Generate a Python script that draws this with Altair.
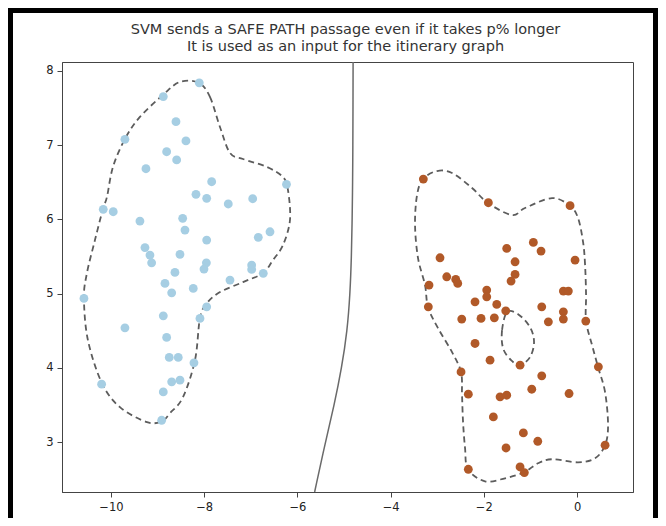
import altair as alt
import pandas as pd

# ---- data ----
blue_x = [-8.105, -8.877, -8.605, -8.391, -8.805, -8.590, -9.700, -9.249, -7.839, -6.234,
          -8.176, -7.946, -7.483, -6.959, -10.165, -9.951, -9.378, -8.461, -8.412, -7.946,
          -6.839, -6.588, -9.270, -9.163, -9.127, -8.519, -7.953, -6.981, -6.981, -6.732,
          -8.004, -8.627, -7.446, -8.841, -8.234, -8.697, -10.579, -7.946, -8.090, -8.877,
          -9.700, -8.805, -8.749, -8.556, -8.219, -8.697, -8.519, -10.200, -8.877, -8.912]
blue_y = [7.84, 7.654, 7.317, 7.057, 6.912, 6.801, 7.079, 6.683, 6.508, 6.473,
          6.338, 6.284, 6.208, 6.279, 6.136, 6.104, 5.978, 6.015, 5.857, 5.722,
          5.759, 5.834, 5.621, 5.520, 5.416, 5.530, 5.416, 5.385, 5.327, 5.274,
          5.332, 5.287, 5.183, 5.139, 5.071, 5.012, 4.937, 4.823, 4.667, 4.702,
          4.540, 4.411, 4.142, 4.142, 4.069, 3.813, 3.836, 3.782, 3.678, 3.296]

brown_x = [-3.298, -1.903, -0.150, -1.509, -0.938, -0.773, -1.330, -0.043, -2.940, -2.796,
           -2.603, -2.560, -1.330, -1.416, -3.176, -0.294, -0.187, -1.938, -1.938, -2.189,
           -1.723, -1.530, -0.758, -0.294, -3.191, -2.474, -2.060, -1.775, -0.616, -0.294,
           0.187, -2.189, -1.867, -1.223, -0.758, 0.457, -2.489, -2.333, -0.972, -1.652,
           -1.509, -0.172, -1.796, -1.152, -0.843, -1.524, 0.601, -2.333, -1.223, -1.131]
brown_y = [6.544, 6.225, 6.185, 5.610, 5.691, 5.574, 5.430, 5.453, 5.484, 5.228,
           5.193, 5.139, 5.260, 5.170, 5.116, 5.035, 5.035, 5.049, 4.958, 4.891,
           4.856, 4.770, 4.823, 4.756, 4.823, 4.658, 4.667, 4.675, 4.621, 4.658,
           4.631, 4.330, 4.105, 4.038, 3.894, 4.015, 3.947, 3.647, 3.714, 3.611,
           3.633, 3.656, 3.341, 3.125, 3.013, 2.923, 2.960, 2.636, 2.667, 2.592]

# dashed contour around the blue group
blue_cont_x = [-8.112, -7.876, -7.661, -7.446, -7.167, -6.652, -6.309, -6.202, -6.159, -6.309,
               -6.524, -6.738, -7.167, -7.661, -7.940, -8.090, -8.197, -8.455, -8.734, -8.906,
               -9.227, -9.807, -10.193, -10.494, -10.579, -10.515, -10.343, -10.172, -10.086,
               -9.957, -9.700, -9.378, -8.884, -8.519]
blue_cont_y = [7.838, 7.650, 7.245, 6.895, 6.814, 6.706, 6.571, 6.396, 5.992, 5.655,
               5.453, 5.278, 5.156, 5.022, 4.873, 4.671, 4.105, 3.606, 3.391, 3.283,
               3.270, 3.472, 3.795, 4.375, 4.941, 5.278, 5.722, 6.140, 6.302,
               6.706, 7.084, 7.380, 7.677, 7.852]

# dashed contour around the brown group
brown_cont_x = [-3.305, -3.004, -2.682, -2.253, -1.910, -1.395, -1.116, -0.536, -0.150, 0.021,
                0.129, 0.172, 0.193, 0.193, 0.322, 0.451, 0.601, 0.665, 0.601, 0.386,
                0.021, -0.536, -0.837, -1.137, -1.545, -1.974, -2.339, -2.403, -2.446, -2.468,
                -2.489, -2.682, -2.983, -3.197, -3.262, -3.412, -3.476, -3.433]
brown_cont_y = [6.544, 6.652, 6.625, 6.423, 6.221, 6.059, 6.154, 6.288, 6.181, 6.019,
                5.695, 5.385, 4.981, 4.631, 4.307, 4.011, 3.674, 3.229, 2.960, 2.784,
                2.730, 2.771, 2.717, 2.596, 2.515, 2.474, 2.636, 2.919, 3.270, 3.633,
                3.943, 4.213, 4.536, 4.819, 5.116, 5.480, 5.925, 6.329]

# small hole inside the brown contour
hole_x = [-1.502, -1.609, -1.588, -1.416, -1.223, -1.009, -0.923, -1.009, -1.266]
hole_y = [4.752, 4.509, 4.267, 4.105, 4.038, 4.146, 4.348, 4.550, 4.725]

# decision boundary
bound_x = [-4.805, -4.807, -4.81, -4.815, -4.825, -4.84, -4.87, -4.93, -5.05, -5.21, -5.40, -5.63]
bound_y = [8.12, 7.5, 7.0, 6.5, 6.0, 5.5, 5.0, 4.5, 4.0, 3.5, 3.0, 2.33]

title_line1 = "SVM sends a SAFE PATH passage even if it takes p% longer"
title_line2 = "It is used as an input for the itinerary graph"
x_ticks = [-10, -8, -6, -4, -2, 0]
y_ticks = [3, 4, 5, 6, 7, 8]
x_domain = [-11.05, 1.20]
y_domain = [2.33, 8.12]

# ---- tables ----
pts = pd.DataFrame({
    "x": blue_x + brown_x,
    "y": blue_y + brown_y,
    "cls": ["blue"] * len(blue_x) + ["brown"] * len(brown_x),
})
cont = pd.DataFrame({
    "x": blue_cont_x + brown_cont_x + hole_x,
    "y": blue_cont_y + brown_cont_y + hole_y,
    "path": ["a"] * len(blue_cont_x) + ["b"] * len(brown_cont_x) + ["c"] * len(hole_x),
    "i": list(range(len(blue_cont_x))) + list(range(len(brown_cont_x))) + list(range(len(hole_x))),
})
bnd = pd.DataFrame({"x": bound_x, "y": bound_y, "i": list(range(len(bound_x)))})

W, H = 571, 430
PL, PT, PR, PB = 54, 54, 25, 26

xs = alt.Scale(domain=x_domain, nice=False, zero=False)
ys = alt.Scale(domain=y_domain, nice=False, zero=False)
xax = alt.Axis(values=x_ticks, title=None, grid=False, format="d")
yax = alt.Axis(values=y_ticks, title=None, grid=False, format="d")

points = alt.Chart(pts).mark_point(filled=True, size=78, opacity=1).encode(
    x=alt.X("x:Q", scale=xs, axis=xax),
    y=alt.Y("y:Q", scale=ys, axis=yax),
    color=alt.Color("cls:N", scale=alt.Scale(domain=["blue", "brown"],
                                             range=["#a6cee3", "#b15928"]), legend=None),
)

contours = alt.Chart(cont).mark_line(
    interpolate="cardinal-closed", strokeDash=[6, 4], strokeWidth=1.8, color="#5c5c5c"
).encode(
    x=alt.X("x:Q", scale=xs),
    y=alt.Y("y:Q", scale=ys),
    detail="path:N",
    order="i:Q",
)

boundary = alt.Chart(bnd).mark_line(interpolate="basis", strokeWidth=1.5, color="#6a6a6a").encode(
    x=alt.X("x:Q", scale=xs),
    y=alt.Y("y:Q", scale=ys),
    order="i:Q",
)

one = pd.DataFrame({"k": [0]})
t1 = alt.Chart(one).mark_text(
    text=title_line1, font="DejaVu Sans", fontSize=14.5, color="#333",
    align="center", baseline="middle", clip=False
).encode(x=alt.value(W / 2 - 2), y=alt.value(-32))
t2 = alt.Chart(one).mark_text(
    text=title_line2, font="DejaVu Sans", fontSize=14.5, color="#333",
    align="center", baseline="middle", clip=False
).encode(x=alt.value(W / 2 - 2), y=alt.value(-15))

frame_l = alt.Chart(one).mark_rule(color="black", strokeWidth=5, clip=False).encode(
    x=alt.value(-PL + 2.5), y=alt.value(-PT), y2=alt.value(H + PB))
frame_t = alt.Chart(one).mark_rule(color="black", strokeWidth=5, clip=False).encode(
    x=alt.value(-PL), x2=alt.value(W + PR), y=alt.value(-PT + 2.5))
frame_r = alt.Chart(one).mark_rule(color="black", strokeWidth=5, clip=False).encode(
    x=alt.value(W + PR - 2.5), y=alt.value(-PT), y2=alt.value(H + PB))

chart = alt.layer(contours, boundary, points, t1, t2, frame_l, frame_t, frame_r).properties(
    width=W, height=H,
    padding={"left": PL, "top": PT, "right": PR, "bottom": PB},
    autosize=alt.AutoSizeParams(type="none"),
).configure_view(
    stroke="#444", strokeWidth=1
).configure_axis(
    labelFont="DejaVu Sans", labelFontSize=11.5, labelColor="#222",
    domainColor="#444", tickColor="#444", tickSize=5, labelPadding=4, domain=True,
)

chart.save("out.html", embed_options={"renderer": "svg", "actions": False})
